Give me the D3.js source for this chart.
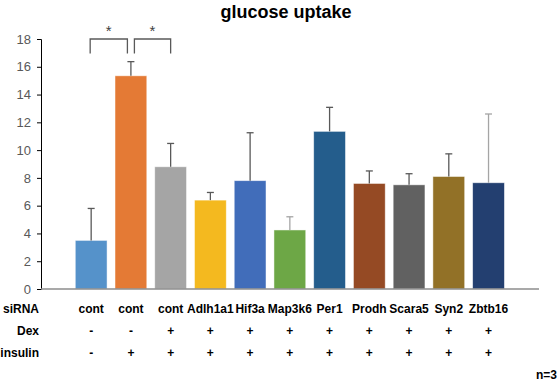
<!DOCTYPE html>
<html>
<head>
<meta charset="utf-8">
<script src="https://cdn.jsdelivr.net/npm/d3@7"></script>
<style>
  body { margin: 0; background: #fff; }
  text { font-family: "Liberation Sans", Arial, sans-serif; }
</style>
</head>
<body>
<div id="graph"></div>
<script>
// data
let sirna = ["cont", "cont", "cont", "Adlh1a1", "Hif3a", "Map3k6", "Per1", "Prodh", "Scara5", "Syn2", "Zbtb16"];
let dex = ["-", "-", "+", "+", "+", "+", "+", "+", "+", "+", "+"];
let insulin = ["-", "+", "+", "+", "+", "+", "+", "+", "+", "+", "+"];
let means = [3.5, 15.35, 8.8, 6.4, 7.8, 4.25, 11.35, 7.6, 7.5, 8.1, 7.65];
let errs = [2.3, 1.02, 1.68, 0.55, 3.45, 0.95, 1.73, 0.9, 0.8, 1.63, 4.95];
let colors = ["#5592ca", "#e47a35", "#a5a5a5", "#f4b91f", "#416dba", "#6da746",
              "#245d8c", "#954a24", "#616161", "#927127", "#233f70"];
let errColors = ["#595959", "#595959", "#595959", "#595959", "#595959", "#a5a5a5",
                 "#595959", "#595959", "#595959", "#595959", "#a5a5a5"];
let yTicks = [0, 2, 4, 6, 8, 10, 12, 14, 16, 18];
let sigPairs = [[0, 1], [1, 2]];

let w = 558;
let h = 384;

const svg = d3.select("#graph")
              .append("svg")
              .attr("width", w)
              .attr("height", h);

const xScale = d3.scaleBand()
                 .domain(d3.range(sirna.length))
                 .range([71.3, 508.4])
                 .paddingInner(0.2)
                 .paddingOuter(0.1);

const yScale = d3.scaleLinear()
                 .domain([0, 18])
                 .range([289, 39]);

const cx = i => xScale(i) + xScale.bandwidth() / 2;

// title
svg.append("text")
   .attr("x", 286)
   .attr("y", 18)
   .attr("text-anchor", "middle")
   .style("font-size", "18px")
   .style("font-weight", "bold")
   .text("glucose uptake");

// y axis
const yAxis = d3.axisLeft(yScale)
                .tickValues(yTicks)
                .tickSize(4)
                .tickPadding(6);

const gy = svg.append("g")
   .attr("transform", "translate(41,0)")
   .call(yAxis);
gy.select(".domain").attr("stroke", "#000");
gy.selectAll(".tick line").attr("stroke", "#000");
gy.selectAll(".tick text")
  .attr("fill", "#595959")
  .style("font-size", "13px")
  .style("font-family", "'Liberation Sans', Arial, sans-serif");

// bars
svg.selectAll(".bar")
   .data(means)
   .enter()
   .append("rect")
   .attr("class", "bar")
   .attr("x", (d, i) => xScale(i))
   .attr("y", d => yScale(d))
   .attr("width", xScale.bandwidth())
   .attr("height", d => yScale(0) - yScale(d))
   .attr("fill", (d, i) => colors[i])
   .attr("stroke", "#ffffff")
   .attr("stroke-opacity", 0.6)
   .attr("stroke-width", 0.8);

// error bars (upper only)
let eb = svg.selectAll(".err")
            .data(means)
            .enter()
            .append("g")
            .attr("class", "err")
            .attr("stroke", (d, i) => errColors[i])
            .attr("stroke-width", 1.3);
eb.append("line")
  .attr("x1", (d, i) => cx(i))
  .attr("x2", (d, i) => cx(i))
  .attr("y1", d => yScale(d))
  .attr("y2", (d, i) => yScale(d + errs[i]));
eb.append("line")
  .attr("x1", (d, i) => cx(i) - 3.5)
  .attr("x2", (d, i) => cx(i) + 3.5)
  .attr("y1", (d, i) => yScale(d + errs[i]))
  .attr("y2", (d, i) => yScale(d + errs[i]));

// x axis line
svg.append("line")
   .attr("x1", 41)
   .attr("x2", 539)
   .attr("y1", yScale(0))
   .attr("y2", yScale(0))
   .attr("stroke", "#8c8c8c")
   .attr("stroke-width", 1.6);

// significance brackets
sigPairs.forEach((p, k) => {
  let x1 = cx(p[0]) + (k == 0 ? -1 : 3.5);
  let x2 = cx(p[1]) - (k == 0 ? 3.5 : 0);
  svg.append("path")
     .attr("d", "M" + x1 + "," + yScale(16.95) + "V" + yScale(18) + "H" + x2 + "V" + yScale(16.95))
     .attr("fill", "none")
     .attr("stroke", "#595959")
     .attr("stroke-width", 1.3);
  svg.append("text")
     .attr("x", (x1 + x2) / 2)
     .attr("y", 36)
     .attr("text-anchor", "middle")
     .attr("fill", "#404040")
     .style("font-size", "15px")
     .text("*");
});

// table below the bars
let rows = [["siRNA", sirna, 309], ["Dex", dex, 330.7], ["insulin", insulin, 352.3]];
rows.forEach(r => {
  svg.append("text")
     .attr("x", 39)
     .attr("y", r[2])
     .attr("dy", "0.35em")
     .attr("text-anchor", "end")
     .style("font-size", "12px")
     .style("font-weight", "bold")
     .text(r[0]);
  svg.selectAll(".cell-" + r[0])
     .data(r[1])
     .enter()
     .append("text")
     .attr("x", (d, i) => cx(i))
     .attr("y", r[2])
     .attr("dy", "0.35em")
     .attr("text-anchor", "middle")
     .style("font-size", "12px")
     .style("font-weight", "bold")
     .text(d => d);
});

svg.append("text")
   .attr("x", 557)
   .attr("y", 374.3)
   .attr("dy", "0.35em")
   .attr("text-anchor", "end")
   .style("font-size", "12px")
   .style("font-weight", "bold")
   .text("n=3");
</script>
</body>
</html>
